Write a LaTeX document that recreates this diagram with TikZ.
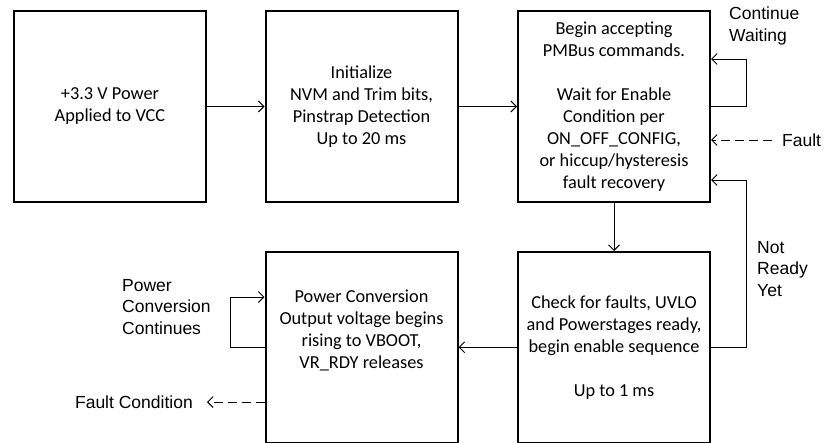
\documentclass[tikz,border=0pt]{standalone}
\usepackage{fontspec}
\setmainfont{Carlito}
\newfontfamily\labelfont{Liberation Sans}
\usetikzlibrary{arrows.meta}
\begin{document}
\begin{tikzpicture}[x=1pt,y=-1pt,
  box/.style={draw,line width=2pt,minimum width=192pt,inner sep=0pt,align=center,
    font=\fontsize{18.3}{22}\selectfont},
  btext/.style={align=center,inner sep=0pt,font=\fontsize{18.3}{22}\selectfont},
  lbl/.style={align=left,inner sep=0pt,font=\labelfont\fontsize{17.5}{21.5}\selectfont},
  arr/.style={line width=1pt,-{Straight Barb[length=5.5pt,width=11pt,line width=1pt]}},
  dsh/.style={arr,dash pattern=on 9pt off 5pt}]
\useasboundingbox (0,0) rectangle (827,442);
\node[box,minimum height=191pt] (b1) at (110,106.5) {+3.3 V Power\\Applied to VCC};
\node[box,minimum height=191pt] (b2) at (361.5,106.5) {Initialize\\NVM and Trim bits,\\Pinstrap Detection\\Up to 20 ms};
\node[box,minimum height=191pt] (b3) at (614,106.5) {Begin accepting\\PMBus commands.\\[22pt]Wait for Enable\\Condition per\\ON\_OFF\_CONFIG,\\or hiccup/hysteresis\\fault recovery};
\node[box,minimum height=190.5pt] (b4) at (361.5,347.25) {};
\node[btext] (t4) at (361.5,330) {Power Conversion\\Output voltage begins\\rising to VBOOT,\\VR\_RDY releases};
\node[box,minimum height=190.5pt] (b5) at (614,347.25) {Check for faults, UVLO\\and Powerstages ready,\\begin enable sequence\\[22pt]Up to 1 ms};
\draw[arr] (b1.east) -- (b2.west);
\draw[arr] (b2.east) -- (b3.west);
\coordinate (cw) at (746,59);
\draw[arr] (b3.east) -| (cw) -- (cw -| b3.east);
\node[lbl,anchor=north west] (lcw) at (729,7) {Continue\\Waiting};
\coordinate (fs) at (772,140);
\draw[dsh] (fs) -- (fs -| b3.east);
\node[lbl,anchor=west] (lf) at (782,140) {Fault};
\coordinate (nr) at (746,180);
\draw[arr] (b5.east) -| (nr) -- (nr -| b3.east);
\node[lbl,anchor=north west] (lnr) at (757,241) {Not\\Ready\\Yet};
\draw[arr] (b3.south) -- (b5.north);
\draw[arr] (b5.west) -- (b4.east);
\coordinate (pc) at (230,297);
\draw[arr] (b4.west) -| (pc) -- (pc -| b4.west);
\node[lbl,anchor=north west] (lpc) at (122,279) {Power\\Conversion\\Continues};
\coordinate (fc) at (207,402);
\draw[dsh] (fc -| b4.west) -- (fc);
\node[lbl,anchor=east] (lfc) at (193,402) {Fault Condition};
\end{tikzpicture}
\end{document}
